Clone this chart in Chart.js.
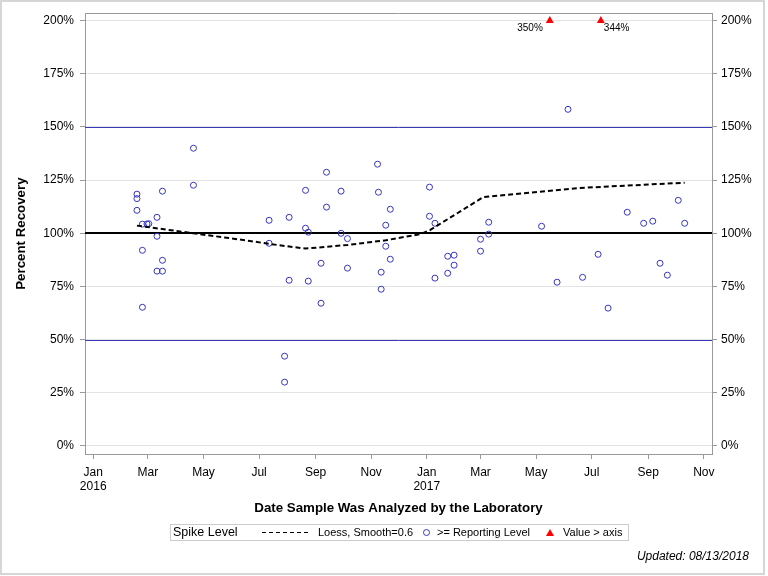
<!DOCTYPE html>
<html>
<head>
<meta charset="utf-8">
<script src="https://cdn.jsdelivr.net/npm/chart.js@4/dist/chart.umd.min.js"></script>
<style>
  body { margin: 0; background: #fff; }
  #wrap { position: relative; width: 768px; height: 576px; font-family: "Liberation Sans", Arial, sans-serif; }
  #chart { position: absolute; left: 0; top: 0; }
  #frame { position: absolute; left: 0; top: 0; width: 761px; height: 571px; border: 2px solid #d6d6d6; pointer-events: none; }
  #legend { position: absolute; left: 170px; top: 524px; width: 457px; height: 15px; border: 1px solid #cbcbcb; }
  .lg { position: absolute; top: 525px; line-height: 15px; font-size: 11px; color: #000; white-space: nowrap; }
  #dash { position: absolute; left: 262px; top: 532px; width: 49px; height: 1px;
          background: repeating-linear-gradient(to right, #000 0 4px, transparent 4px 7px); }
  #circ { position: absolute; left: 423px; top: 529px; width: 5px; height: 5px; border: 1px solid #3434c4; border-radius: 50%; }
  #tri { position: absolute; left: 546px; top: 529px; width: 0; height: 0;
         border-left: 4px solid transparent; border-right: 4px solid transparent; border-bottom: 7px solid #f00; }
  #updated { position: absolute; right: 19px; top: 549px; font-size: 12px; font-style: italic; color: #000; }
</style>
</head>
<body>
<div id="wrap">
  <canvas id="chart" width="768" height="576"></canvas>
  <div id="legend"></div>
  <span class="lg" style="left:173px;font-size:12.5px">Spike Level</span>
  <div id="dash"></div>
  <span class="lg" style="left:318px">Loess, Smooth=0.6</span>
  <div id="circ"></div>
  <span class="lg" style="left:437px">&gt;= Reporting Level</span>
  <div id="tri"></div>
  <span class="lg" style="left:563px">Value &gt; axis</span>
  <div id="updated">Updated: 08/13/2018</div>
  <div id="frame"></div>
</div>
<script>
// recovery results (>= reporting level)
var recDates = [
  '2016-02-18','2016-02-18','2016-02-18','2016-02-24','2016-02-29','2016-03-02','2016-03-17','2016-03-11',
  '2016-03-11','2016-02-24','2016-03-17','2016-03-11','2016-03-17','2016-02-24','2016-04-20','2016-04-20',
  '2016-07-12','2016-07-12','2016-08-03','2016-08-03','2016-07-29','2016-07-29','2016-08-21','2016-08-21',
  '2016-08-24','2016-08-24','2016-09-07','2016-09-07','2016-09-13','2016-09-13','2016-09-29','2016-09-29',
  '2016-10-06','2016-10-06','2016-11-08','2016-11-09','2016-11-12','2016-11-12','2016-11-17','2016-11-17',
  '2016-11-22','2016-11-22','2017-01-04','2017-01-04','2017-01-10','2017-01-10','2017-01-24','2017-01-31',
  '2017-01-31','2017-01-24','2017-03-01','2017-03-01','2017-03-10','2017-03-10','2017-05-07','2017-05-24',
  '2017-06-05','2017-06-21','2017-07-08','2017-07-19','2017-08-09','2017-08-27','2017-09-06','2017-09-14',
  '2017-09-22','2017-10-04','2017-10-11'
];
var recValues = [
  118.4, 116.3, 110.8, 104.3, 104.4, 104.5, 119.8, 107.5,
  98.6, 92.0, 87.3, 82.2, 82.2, 65.2, 140.0, 122.6,
  106.1, 95.3, 107.5, 77.9, 42.2, 30.0, 120.2, 102.4,
  100.5, 77.5, 85.9, 67.1, 128.7, 112.3, 119.8, 100.0,
  97.5, 83.6, 132.5, 119.3, 81.7, 73.7, 103.8, 93.9,
  111.3, 87.8, 121.7, 108.0, 104.7, 78.9, 89.2, 89.7,
  85.0, 81.2, 97.2, 91.6, 105.2, 99.6, 103.3, 77.0,
  158.3, 79.3, 90.1, 64.8, 109.9, 104.7, 105.7, 85.9,
  80.3, 115.5, 104.7
];

// loess fit, smooth=0.6
var loessDates = ['2016-02-18','2016-04-20','2016-06-21','2016-07-12','2016-08-21','2016-10-06',
                  '2016-11-17','2016-12-25','2017-01-05','2017-03-04','2017-06-18','2017-10-11'];
var loessValues = [103.6, 100.0, 96.4, 95.0, 92.8, 94.5, 96.7, 99.6, 101.6, 117.0, 121.3, 123.8];

// values above the axis
var overDates = ['2017-05-16', '2017-07-11'];
var overValues = [350, 344];
var overSide = ['left', 'right'];

// reference lines
var refLines = [150, 100, 50];

// axes
var yTicks = [0, 25, 50, 75, 100, 125, 150, 175, 200];
var xTickDates = ['2016-01-01','2016-03-01','2016-05-01','2016-07-01','2016-09-01','2016-11-01',
                  '2017-01-01','2017-03-01','2017-05-01','2017-07-01','2017-09-01','2017-11-01'];
var xTickLabels = [['Jan','2016'],'Mar','May','Jul','Sep','Nov',['Jan','2017'],'Mar','May','Jul','Sep','Nov'];
var xStart = '2015-12-23', xEnd = '2017-11-10';
var yMin = -3.8, yMax = 203.5, yShownMax = 200;

var FONT = '"Liberation Sans", Arial, sans-serif';
Chart.defaults.font.family = FONT;
Chart.defaults.color = '#000';

//days since 2016-01-01
function toDay(s)
{
    return (Date.UTC(+s.slice(0,4), +s.slice(5,7) - 1, +s.slice(8,10)) - Date.UTC(2016, 0, 1)) / 86400000;
}

function pts(dates, values)
{
    var out = [];
    for(var i = 0; i < dates.length; i++)
    {
        out.push({x: toDay(dates[i]), y: Math.min(values[i], yShownMax)});
    }
    return out;
}

var refLinePlugin = {
    id: 'refLines',
    beforeDatasetsDraw: function(chart)
    {
        var a = chart.chartArea, y = chart.scales.y, ctx = chart.ctx;
        ctx.save();
        //top frame line
        ctx.strokeStyle = '#9a9a9a';
        ctx.lineWidth = 1;
        ctx.beginPath();
        ctx.moveTo(a.left, Math.round(a.top) + 0.5);
        ctx.lineTo(a.right, Math.round(a.top) + 0.5);
        ctx.stroke();
        for(var i = 0; i < refLines.length; i++)
        {
            var py = y.getPixelForValue(refLines[i]);
            ctx.beginPath();
            if(refLines[i] === 100)
            {
                ctx.strokeStyle = '#000';
                ctx.lineWidth = 2;
                py = Math.round(py);
            }
            else
            {
                ctx.strokeStyle = '#3a3ab8';
                ctx.lineWidth = 1;
                py = Math.round(py) + 0.5;
            }
            ctx.moveTo(a.left, py);
            ctx.lineTo(a.right, py);
            ctx.stroke();
        }
        ctx.restore();
    }
};

var overLabelPlugin = {
    id: 'overLabels',
    afterDatasetsDraw: function(chart)
    {
        var meta = chart.getDatasetMeta(2), ctx = chart.ctx;
        ctx.save();
        ctx.font = '10px ' + FONT;
        ctx.fillStyle = '#000';
        ctx.textBaseline = 'middle';
        for(var i = 0; i < meta.data.length; i++)
        {
            var p = meta.data[i];
            var txt = overValues[i] + '%';
            if(overSide[i] === 'left')
            {
                ctx.textAlign = 'right';
                ctx.fillText(txt, p.x - 7, p.y + 7.5);
            }
            else
            {
                ctx.textAlign = 'left';
                ctx.fillText(txt, p.x + 3, p.y + 7.5);
            }
        }
        ctx.restore();
    }
};

var yTickBuild = function(s) { s.ticks = yTicks.map(function(v) { return {value: v}; }); };
var yTickFmt = function(v) { return v + '%'; };

var chart = new Chart(document.getElementById('chart'), {
    type: 'scatter',
    data: {
        datasets: [
            {
                type: 'line',
                label: 'Loess, Smooth=0.6',
                data: pts(loessDates, loessValues),
                borderColor: '#000',
                borderWidth: 2,
                borderDash: [5, 3],
                pointRadius: 0,
                fill: false,
                tension: 0
            },
            {
                label: '>= Reporting Level',
                data: pts(recDates, recValues),
                pointStyle: 'circle',
                pointRadius: 3,
                borderWidth: 1,
                borderColor: '#3434c4',
                backgroundColor: 'rgba(0,0,0,0)'
            },
            {
                label: 'Value > axis',
                data: pts(overDates, overValues),
                pointStyle: 'triangle',
                pointRadius: 4.6,
                borderWidth: 0,
                borderColor: '#f00',
                backgroundColor: '#f00'
            }
        ]
    },
    options: {
        responsive: false,
        animation: false,
        layout: { padding: { top: 13, left: 0, right: 0, bottom: 60 } },
        plugins: { legend: { display: false }, tooltip: { enabled: false } },
        scales: {
            x: {
                type: 'linear',
                position: 'bottom',
                min: toDay(xStart),
                max: toDay(xEnd),
                afterBuildTicks: function(s) { s.ticks = xTickDates.map(function(d) { return {value: toDay(d)}; }); },
                afterFit: function(s) { s.height = 62; },
                ticks: {
                    autoSkip: false, maxRotation: 0, padding: 6, color: '#000',
                    font: { size: 12 },
                    callback: function(v, i) { return xTickLabels[i]; }
                },
                grid: { drawOnChartArea: false, tickLength: 5, tickColor: '#9a9a9a', color: '#9a9a9a' },
                border: { color: '#9a9a9a' },
                title: {
                    display: true, text: 'Date Sample Was Analyzed by the Laboratory',
                    color: '#000', font: { size: 13.3, weight: 'bold' }, padding: { top: 4, bottom: 0 }
                }
            },
            y: {
                position: 'left',
                min: yMin,
                max: yMax,
                afterBuildTicks: yTickBuild,
                afterFit: function(s) { s.width = 85; },
                ticks: { padding: 6, color: '#000', font: { size: 12 }, callback: yTickFmt },
                grid: { color: '#e3e3e3', tickColor: '#9a9a9a', tickLength: 5 },
                border: { color: '#9a9a9a' },
                title: {
                    display: true, text: 'Percent Recovery',
                    color: '#000', font: { size: 13.3, weight: 'bold' }, padding: { top: 13, bottom: 0 }
                }
            },
            y2: {
                position: 'right',
                min: yMin,
                max: yMax,
                afterBuildTicks: yTickBuild,
                afterFit: function(s) { s.width = 56; },
                ticks: { padding: 4, color: '#000', font: { size: 12 }, callback: yTickFmt },
                grid: { drawOnChartArea: false, tickColor: '#9a9a9a', tickLength: 5 },
                border: { color: '#9a9a9a' }
            }
        }
    },
    plugins: [refLinePlugin, overLabelPlugin]
});
</script>
</body>
</html>
